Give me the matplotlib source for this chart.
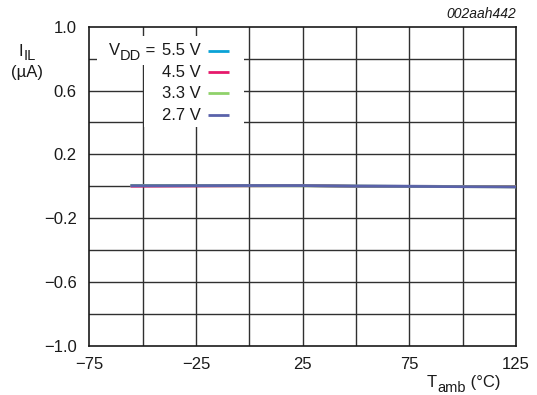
import numpy as np
import matplotlib
matplotlib.use("Agg")
import matplotlib.pyplot as plt
from matplotlib.patches import Rectangle

plt.rcParams["font.family"] = ["Liberation Sans", "DejaVu Sans"]
plt.rcParams["text.color"] = "#1a1a1a"

# ── Data ─────────────────────────────────────────────────────────────────────
temps = [-55, -40, 0, 25, 50, 85, 125]
i_55 = [0.006, 0.006, 0.006, 0.005, 0.002, 0.000, -0.002]
i_45 = [0.001, 0.002, 0.004, 0.005, 0.001, 0.000, -0.002]
i_33 = [0.005, 0.005, 0.004, 0.004, 0.001, -0.001, -0.003]
i_27 = [0.004, 0.004, 0.005, 0.005, 0.001, -0.001, -0.004]

series_labels = ["5.5 V", "4.5 V", "3.3 V", "2.7 V"]
series_colors = ["#0aa2d6", "#e6196b", "#8fd16a", "#5a62aa"]
series_values = [i_55, i_45, i_33, i_27]

xticks = [-75, -25, 25, 75, 125]
yticks = [1.0, 0.6, 0.2, -0.2, -0.6, -1.0]
ytick_labels = ["1.0", "0.6", "0.2", "\u22120.2", "\u22120.6", "\u22121.0"]
xtick_labels = ["\u221275", "\u221225", "25", "75", "125"]

W, H = 537, 395
FS = 12
SUB_FS = 10.5
SUB_DY = 4.5  # px drop of subscript

fig = plt.figure(figsize=(W / 100, H / 100), dpi=100)
ax = fig.add_axes([89.3 / W, 1 - 346 / H, 426.7 / W, 319.3 / H])
renderer = fig.canvas.get_renderer()


def text_width(s, size):
    t = fig.text(0, 0, s, fontsize=size)
    w = t.get_window_extent(renderer).width
    t.remove()
    return w


def sub_text(x_px, y_px, parts, ha="left"):
    """parts: list of (string, is_subscript). y_px is the baseline (from top)."""
    widths = [text_width(s, SUB_FS if sub else FS) for s, sub in parts]
    total = sum(widths)
    x0 = {"left": x_px, "right": x_px - total, "center": x_px - total / 2}[ha]
    for (s, sub), w in zip(parts, widths):
        yb = y_px + (SUB_DY if sub else 0)
        fig.text(x0 / W, 1 - yb / H, s, fontsize=SUB_FS if sub else FS,
                 ha="left", va="baseline")
        x0 += w


ax.set_xlim(-75, 125)
ax.set_ylim(-1.0, 1.0)

# grid
grid_c = "#303030"
for gx in np.arange(-50, 125, 25):
    ax.axvline(gx, color=grid_c, lw=1.0, zorder=1)
for gy in np.arange(-0.8, 1.0, 0.2):
    ax.axhline(gy, color=grid_c, lw=1.0, zorder=1)

# white legend background (hides grid)
ax.add_patch(Rectangle((-71.2, 0.760), 68.7, 0.182, facecolor="white",
                       edgecolor="none", zorder=2))
ax.add_patch(Rectangle((-49.5, 0.372), 47.0, 0.40, facecolor="white",
                       edgecolor="none", zorder=2))

for vals, col in zip(series_values, series_colors):
    ax.plot(temps, vals, color=col, lw=2.0, zorder=3)

# legend drawn by hand
row_y = [50.7, 72.3, 93.3, 115.0]
for lab, col, py in zip(series_labels, series_colors, row_y):
    ya = (346 - py) / 319.3
    ax.text((201 - 89.3) / 426.7, ya, lab, transform=ax.transAxes,
            ha="right", va="center", fontsize=FS, zorder=4)
    ax.plot([(208.3 - 89.3) / 426.7, (229.3 - 89.3) / 426.7], [ya, ya],
            transform=ax.transAxes, color=col, lw=2.0, zorder=4,
            solid_capstyle="butt")
# "VDD =" prefix in front of the first legend row
w55 = text_width(series_labels[0], FS)
sub_text(201 - w55 - 2, 55.0, [("V", False), ("DD", True), (" = ", False)],
         ha="right")

ax.set_xticks(xticks)
ax.set_xticklabels(xtick_labels)
ax.set_yticks(yticks)
ax.set_yticklabels(ytick_labels)
ax.tick_params(length=0, labelsize=FS, labelcolor="#1a1a1a")
ax.tick_params(axis="y", pad=9)
ax.tick_params(axis="x", pad=8)
for s in ax.spines.values():
    s.set_linewidth(1.2)
    s.set_color("#1a1a1a")

sub_text(27, 56, [("I", False), ("IL", True)], ha="center")
fig.text(27 / W, 1 - 72 / H, "(\u00b5A)", ha="center", va="center",
         fontsize=FS)
sub_text(500, 387, [("T", False), ("amb", True), (" (\u00b0C)", False)],
         ha="right")
fig.text(516 / W, 1 - 14 / H, "002aah442", ha="right", va="center",
         fontsize=10, style="italic")

fig.savefig("out.png", dpi=100)
